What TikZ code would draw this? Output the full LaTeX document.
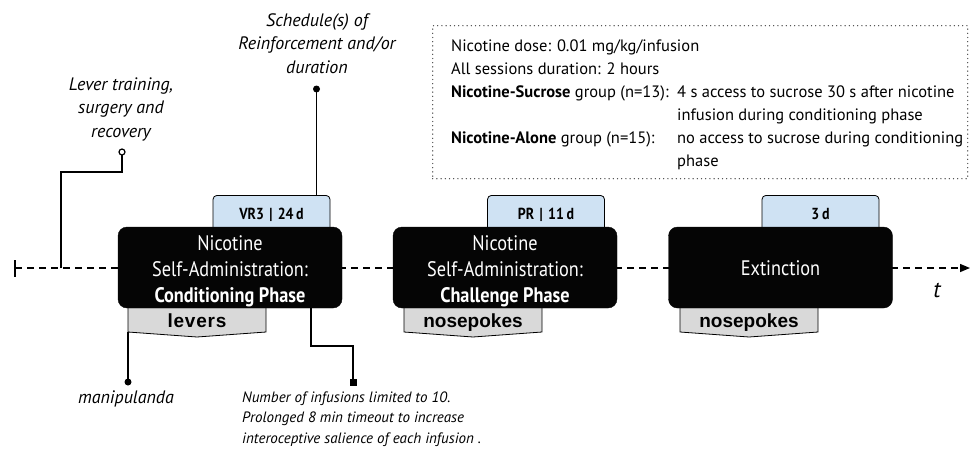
\documentclass[tikz,border=0pt]{standalone}
\usepackage{fontspec}
\setmainfont{PT Sans}
\newfontfamily\boxfont{PT Sans}[FakeStretch=0.87]
\newfontfamily\arialfont{Liberation Sans}
\usetikzlibrary{arrows.meta}
\definecolor{tabblue}{RGB}{207,226,243}
\definecolor{tabgrey}{RGB}{217,217,217}
\definecolor{dotgrey}{RGB}{70,70,70}
\definecolor{boxblack}{RGB}{5,5,5}
\begin{document}
\begin{tikzpicture}[x=1pt,y=-1pt,
  timeline/.style={line width=1.4pt, dash pattern=on 7pt off 5pt, -{Triangle[length=10pt,width=8pt]}},
  phasebox/.style={fill=boxblack, draw=boxblack, rounded corners=9pt, minimum width=224pt, minimum height=81pt, inner sep=0pt},
  boxtext/.style={text=white, align=center, anchor=base, inner sep=0pt, font=\boxfont\fontsize{21}{26}\selectfont},
  bluetab/.style={fill=tabblue, draw=black, line width=0.8pt, rounded corners=4pt, minimum width=117pt, minimum height=40pt, anchor=north, inner sep=0pt},
  tabtext/.style={font=\boxfont\bfseries\fontsize{16}{18}\selectfont, anchor=base, inner sep=0pt},
  greytab/.style={fill=tabgrey, draw=black, line width=0.8pt},
  greytext/.style={font=\arialfont\bfseries\fontsize{19}{21}\selectfont, anchor=base, inner sep=0pt},
  conn/.style={line width=1.4pt},
  annot/.style={font=\itshape\fontsize{18}{23.5}\selectfont, align=center, anchor=base, inner sep=0pt},
  infobox/.style={draw=dotgrey, line width=1.4pt, dash pattern=on 0pt off 4.2pt, line cap=round, minimum width=535pt, minimum height=153pt, anchor=north west, inner sep=0pt},
  infotext/.style={font=\fontsize{16.5}{23}\selectfont, anchor=base west, inner sep=0pt}
]
\useasboundingbox (0,0) rectangle (971,448);

% timeline
\coordinate (tstart) at (15,268);
\coordinate (tend) at (970,268);
\coordinate (tickA) at (15,260);
\coordinate (tickB) at (15,277);
\draw[timeline] (tstart) -- (tend);
\draw[line width=1.4pt] (tickA) -- (tickB);
\node[font=\itshape\fontsize{23}{24}\selectfont, anchor=base, inner sep=0pt] (tlabel) at (937,297) {t};

% blue tabs (behind boxes)
\node[bluetab] (tab1) at (271.5,195) {};
\node[bluetab] (tab2) at (546,195) {};
\node[bluetab] (tab3) at (820.5,195) {};
\node[tabtext] (tab1t) at (271.5,219) {VR3\,\,|\,\,24\,d};
\node[tabtext] (tab2t) at (546,219) {PR\,\,|\,\,11\,d};
\node[tabtext] (tab3t) at (820.5,219) {3\,d};

% grey tabs (behind boxes)
\draw[greytab] (128,300) -- (128,332) -- (197,337) -- (266,332) -- (266,300) -- cycle;
\draw[greytab] (404,300) -- (404,332) -- (473,337) -- (542,332) -- (542,300) -- cycle;
\draw[greytab] (680,300) -- (680,332) -- (749,337) -- (818,332) -- (818,300) -- cycle;
\node[greytext] (g1) at (197,327) {\addfontfeature{LetterSpace=4}levers};
\node[greytext] (g2) at (473,327) {nosepokes};
\node[greytext] (g3) at (749,327) {nosepokes};

% phase boxes
\node[phasebox] (b1) at (230,267.5) {};
\node[phasebox] (b2) at (505,267.5) {};
\node[phasebox] (b3) at (780.5,267.5) {};
\node[boxtext] (b1t) at (230,302) {Nicotine\\Self-Administration:\\\textbf{Conditioning Phase}};
\node[boxtext] (b2t) at (505,302) {Nicotine\\Self-Administration:\\\textbf{Challenge Phase}};
\node[boxtext] (b3t) at (780.5,275) {Extinction};

% connectors
\coordinate (levstart) at (61,268);
\coordinate (levend) at (122,152);
\draw[conn] (levstart) |- (122,172) -- ([yshift=3pt]levend);
\draw[line width=1.2pt, fill=white] (levend) circle (3pt);
\node[annot] (levtxt) at (121,137) {Lever training,\\surgery and\\recovery};

\coordinate (schend) at (316.5,89);
\draw[conn] (tab1.north -| schend) -- (schend);
\fill (schend) circle (3.5pt);
\node[annot] (schtxt) at (317,73) {Schedule(s) of\\Reinforcement and/or\\duration};

\coordinate (manistart) at (128,332);
\coordinate (maniend) at (128,382);
\draw[conn] (manistart) -- (maniend);
\fill (maniend) circle (3.5pt);
\node[annot] (manitxt) at (126,403) {manipulanda};

\coordinate (numstart) at (311,308);
\coordinate (numend) at (353,382);
\draw[conn] (numstart) |- (331,346) -| (numend);
\fill ([xshift=-3.5pt,yshift=-3.5pt]numend) rectangle ([xshift=3.5pt,yshift=3.5pt]numend);
\node[font=\itshape\fontsize{15}{20.5}\selectfont, align=left, anchor=base west, inner sep=0pt] (numtxt) at (242,443) {Number of infusions limited to 10.\\Prolonged 8 min timeout to increase\\interoceptive salience of each infusion .};

% info box
\node[infobox] (info) at (432,25) {};
\node[infotext] (i1) at (451,51) {Nicotine dose: 0.01 mg/kg/infusion};
\node[infotext] (i2) at (451,74) {All sessions duration: 2 hours};
\node[infotext] (i3) at (451,97) {\textbf{Nicotine-Sucrose} group (n=13):};
\node[infotext] (i4) at (677,97) {4 s access to sucrose 30 s after nicotine};
\node[infotext] (i5) at (677,120) {infusion during conditioning phase};
\node[infotext] (i6) at (451,143) {\textbf{Nicotine-Alone} group (n=15):};
\node[infotext] (i7) at (677,143) {no access to sucrose during conditioning};
\node[infotext] (i8) at (677,166) {phase};
\end{tikzpicture}
\end{document}
